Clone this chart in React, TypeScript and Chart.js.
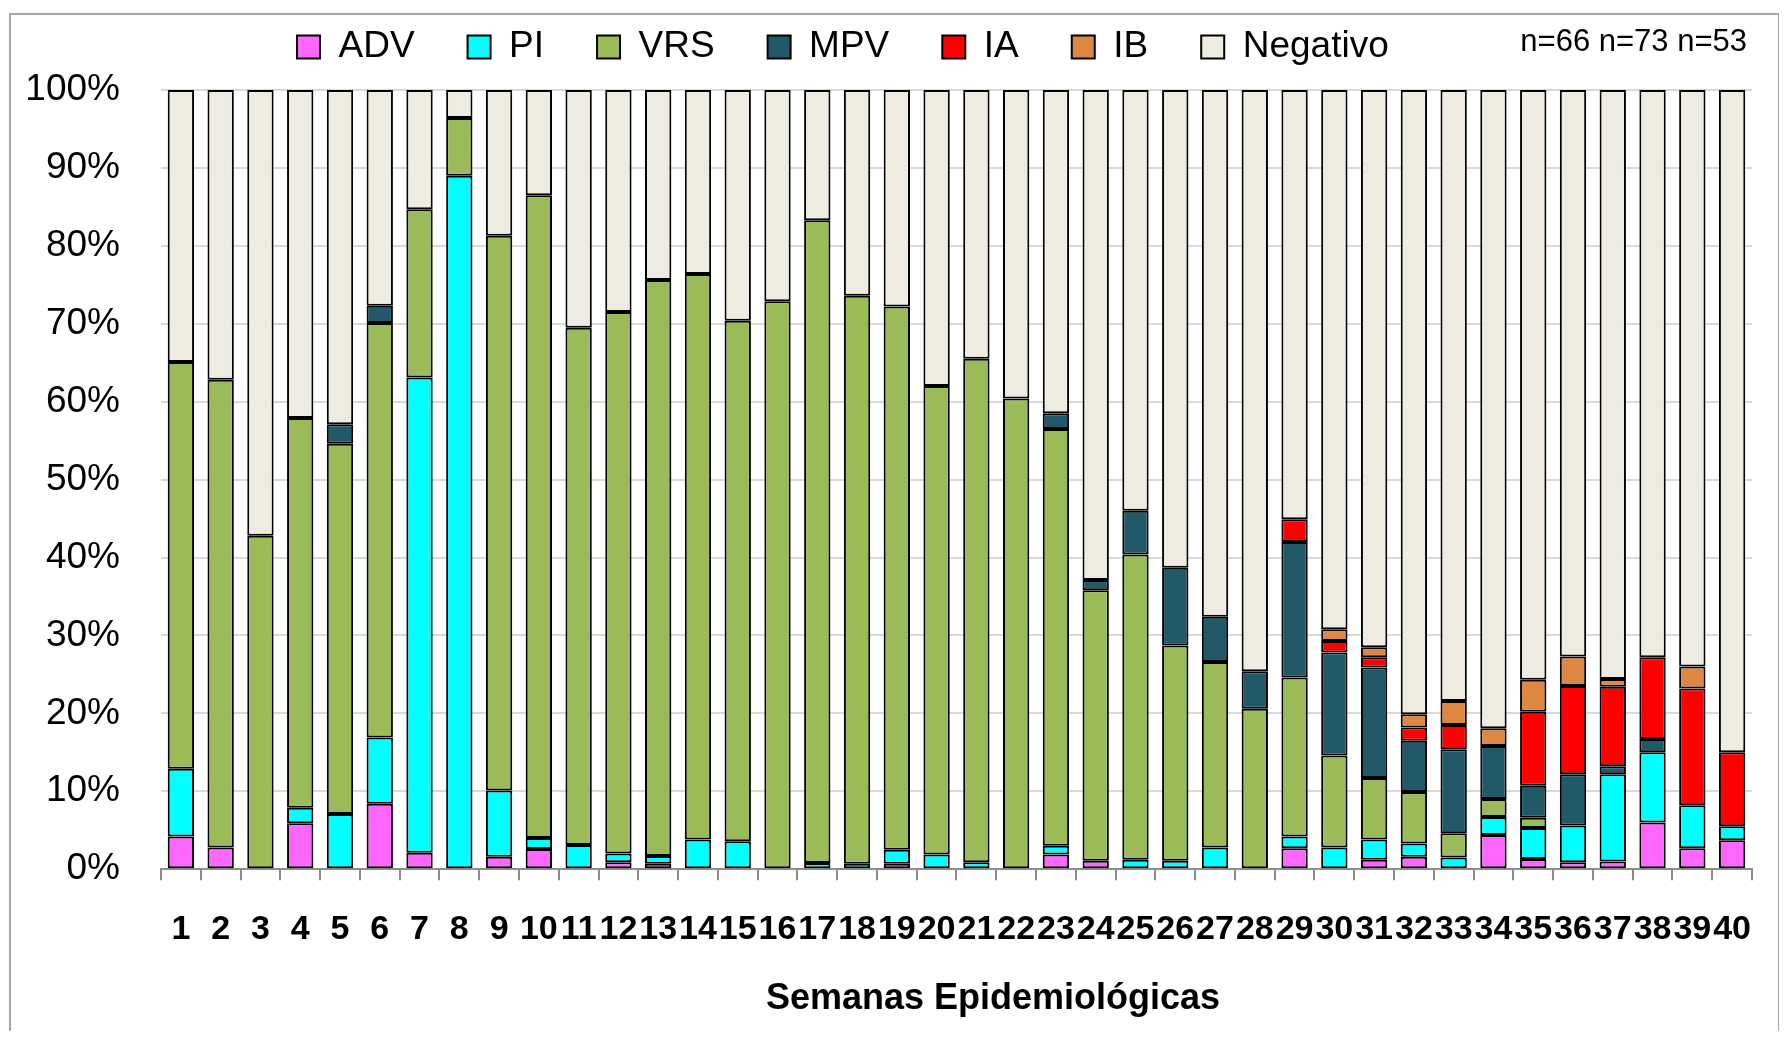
import React, { useEffect, useRef } from "react";
import { Chart, registerables } from "chart.js";

Chart.register(...registerables);

const weeks = Array.from({ length: 40 }, (_, i) => String(i + 1));

const seriesNames = ["ADV", "PI", "VRS", "MPV", "IA", "IB", "Negativo"];
const seriesColors = ["#FF66FF", "#00FFFF", "#9BBB59", "#215968", "#FF0000", "#DD8742", "#EEECE1"];

const adv = [4.2, 2.8, 0, 5.9, 0, 8.4, 2.1, 0, 1.6, 2.6, 0, 0.9, 0.7, 0, 0, 0, 0, 0, 0.7, 0, 0, 0, 1.9, 1.1, 0, 0, 0, 0, 2.7, 0, 1.2, 1.6, 0, 4.4, 1.3, 0.9, 1.0, 6.0, 2.7, 3.7];
const pi = [8.7, 0, 0, 2.0, 7.1, 8.5, 61.0, 89.0, 8.5, 1.4, 3.1, 1.1, 1.0, 3.8, 3.6, 0, 0.8, 0.7, 1.8, 1.9, 0.9, 0, 1.1, 0, 1.2, 1.1, 2.8, 0, 1.5, 2.8, 2.6, 1.7, 1.5, 2.3, 4.0, 4.7, 11.2, 9.0, 5.5, 1.8];
const vrs = [52.2, 60.0, 42.8, 50.0, 47.5, 53.2, 21.6, 7.4, 71.2, 82.5, 66.4, 69.5, 73.9, 72.6, 66.8, 72.9, 82.5, 72.9, 69.7, 60.1, 64.6, 60.4, 53.5, 34.7, 39.2, 27.6, 23.8, 20.6, 20.4, 11.8, 7.9, 6.6, 3.1, 2.3, 1.3, 0, 0, 0, 0, 0];
const mpv = [0, 0, 0, 0, 2.5, 2.2, 0, 0, 0, 0, 0, 0, 0, 0, 0, 0, 0, 0, 0, 0, 0, 0, 2.0, 1.3, 5.6, 10.0, 5.8, 4.8, 17.4, 13.2, 14.2, 6.6, 10.8, 6.8, 4.1, 6.6, 1.0, 1.7, 0, 0];
const ia = [0, 0, 0, 0, 0, 0, 0, 0, 0, 0, 0, 0, 0, 0, 0, 0, 0, 0, 0, 0, 0, 0, 0, 0, 0, 0, 0, 0, 2.9, 1.5, 1.3, 1.7, 3.1, 0, 9.5, 11.3, 10.2, 10.5, 15.0, 9.5];
const ib = [0, 0, 0, 0, 0, 0, 0, 0, 0, 0, 0, 0, 0, 0, 0, 0, 0, 0, 0, 0, 0, 0, 0, 0, 0, 0, 0, 0, 0, 1.5, 1.3, 1.7, 3.1, 2.3, 4.1, 3.8, 1.0, 0, 2.8, 0];
const negativo = weeks.map((_, i) =>
  Math.round((100 - adv[i] - pi[i] - vrs[i] - mpv[i] - ia[i] - ib[i]) * 10) / 10
);

const yTicks = [0, 10, 20, 30, 40, 50, 60, 70, 80, 90, 100];
const sampleNote = "n=66 n=73 n=53";
const xTitle = "Semanas Epidemiológicas";

const FONT = '"Liberation Sans", Arial, sans-serif';

export default function App() {
  const canvasRef = useRef<HTMLCanvasElement | null>(null);

  useEffect(() => {
    const canvas = canvasRef.current;
    if (!canvas) return;
    const values = [adv, pi, vrs, mpv, ia, ib, negativo];

    const legendPlace = {
      id: "legendPlace",
      beforeDraw(chart: any) {
        const lg = chart.legend;
        if (!lg) return;
        const pad = lg.options.labels.padding;
        lg.left = 288 - pad;
        lg.top = 15.5 - pad;
      },
    };

    const textPlugin = {
      id: "textPlugin",
      afterDraw(chart: any) {
        const ctx = chart.ctx;
        ctx.save();
        ctx.fillStyle = "#000";
        ctx.textBaseline = "middle";
        ctx.font = `31px ${FONT}`;
        ctx.textAlign = "right";
        ctx.fillText(sampleNote, 1738, 29);
        ctx.font = `bold 36px ${FONT}`;
        ctx.textAlign = "center";
        ctx.fillText(xTitle, 984, 986);
        ctx.restore();
      },
    };

    const chart = new Chart(canvas, {
      type: "bar",
      data: {
        labels: weeks,
        datasets: seriesNames.map((name, k) => ({
          label: name,
          data: values[k],
          backgroundColor: seriesColors[k],
          borderColor: "#000",
          borderWidth: 2,
          borderSkipped: false,
          barPercentage: 0.662,
          categoryPercentage: 1.0,
        })),
      },
      options: {
        responsive: false,
        animation: false,
        layout: { padding: { left: 0, right: 0, top: 0, bottom: 57 } },
        plugins: {
          legend: {
            position: "top",
            align: "start",
            maxHeight: 77,
            labels: {
              boxWidth: 23,
              boxHeight: 23,
              padding: 53,
              color: "#000",
              font: { family: FONT, size: 37 },
            },
          },
          tooltip: { enabled: false },
        },
        scales: {
          x: {
            stacked: true,
            grid: {
              display: true,
              drawOnChartArea: false,
              drawTicks: true,
              tickLength: 11,
              color: "#8c8c8c",
              lineWidth: 2,
              offset: true,
            },
            border: { display: true, color: "#8c8c8c", width: 2 },
            ticks: {
              color: "#000",
              font: { family: FONT, size: 34, weight: "bold" },
              padding: 29,
              maxRotation: 0,
              minRotation: 0,
              autoSkip: false,
            },
            title: { display: false },
          },
          y: {
            stacked: true,
            min: yTicks[0],
            max: yTicks[yTicks.length - 1],
            afterBuildTicks: (scale: any) => {
              scale.ticks = yTicks.map((v) => ({ value: v }));
            },
            afterFit: (scale: any) => {
              scale.width = 152;
            },
            ticks: {
              callback: (v: any) => v + "%",
              color: "#000",
              font: { family: FONT, size: 37 },
              padding: 41,
            },
            grid: { color: "#d9d9d9", lineWidth: 2, drawTicks: false },
            border: { display: false },
          },
        },
      },
      plugins: [legendPlace, textPlugin],
    } as any);

    return () => chart.destroy();
  }, []);

  return (
    <div style={{ position: "relative", left: 1, top: 5, width: 1771, height: 1023, background: "#fff" }}>
      <canvas ref={canvasRef} width={1771} height={1023} style={{ display: "block", width: 1771, height: 1023 }} />
      <div
        style={{
          position: "absolute",
          left: 0,
          top: 0,
          width: 1771,
          height: 1023,
          boxSizing: "border-box",
          border: "2px solid #a6a6a6",
          pointerEvents: "none",
        }}
      />
    </div>
  );
}
